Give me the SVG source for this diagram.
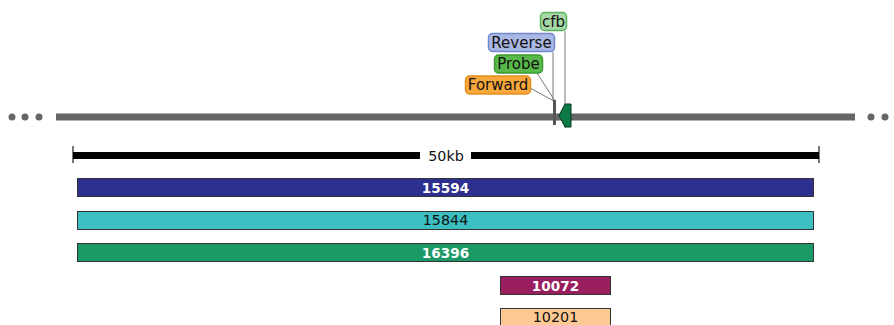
<svg xmlns="http://www.w3.org/2000/svg" width="894" height="325" viewBox="0 0 894 325">
  <style>
    text { font-family: "DejaVu Sans", Verdana, sans-serif; font-size: 14.3px; }
    .lbl { text-anchor: middle; fill: #111; }
    .tagtxt { font-size: 15px; }
    .bold { font-weight: bold; fill: #fff; font-size: 13.6px; }
    .bar { stroke: #333; stroke-width: 1; }
    .tag { stroke-width: 1.5; }
    .lead { stroke: #777; stroke-width: 1; fill: none; }
  </style>
  <rect width="894" height="325" fill="#fff"/>

  <!-- genome track -->
  <g id="track">
    <circle cx="12" cy="117" r="3.5" fill="#666"/>
    <circle cx="25" cy="117" r="3.5" fill="#666"/>
    <circle cx="39" cy="117" r="3.5" fill="#666"/>
    <rect x="56" y="113.5" width="799" height="7" fill="#666"/>
    <circle cx="871" cy="117" r="3.5" fill="#666"/>
    <circle cx="885" cy="117" r="3.5" fill="#666"/>
  </g>

  <!-- connectors -->
  <g id="connectors">
    <line class="lead" x1="530" y1="88" x2="554" y2="101"/>
    <line class="lead" x1="537" y1="73" x2="555" y2="101"/>
    <line class="lead" x1="553" y1="52" x2="553" y2="101"/>
    <line class="lead" x1="565" y1="31" x2="565" y2="128"/>
  </g>

  <!-- features -->
  <g id="amplicon">
    <rect x="553" y="100" width="3" height="25" fill="#555"/>
  </g>
  <g id="cfb-gene">
    <polygon points="559,115.5 565,104 571,104 571,127 565,127" fill="#0b7a45" stroke="#08361f" stroke-width="1"/>
  </g>

  <!-- labels -->
  <g id="label-cfb">
    <rect class="tag" x="540.5" y="12.5" width="26" height="18" rx="4" fill="#a6d8a8" stroke="#5bb55f"/>
    <text class="lbl tagtxt" x="553.5" y="26.5">cfb</text>
  </g>
  <g id="label-reverse">
    <rect class="tag" x="488.5" y="33.5" width="66" height="18" rx="4" fill="#a9b7e3" stroke="#6f88cf"/>
    <text class="lbl tagtxt" x="521.5" y="47.5">Reverse</text>
  </g>
  <g id="label-probe">
    <rect class="tag" x="494.5" y="55" width="48" height="18" rx="4" fill="#58b94a" stroke="#3c9a34"/>
    <text class="lbl tagtxt" x="518.5" y="69">Probe</text>
  </g>
  <g id="label-forward">
    <rect class="tag" x="465.5" y="76" width="65" height="18" rx="4" fill="#f8a83a" stroke="#e39022"/>
    <text class="lbl tagtxt" x="498" y="90">Forward</text>
  </g>

  <!-- scale bar -->
  <g id="scale">
    <rect x="72" y="146" width="2" height="17" fill="#777"/>
    <rect x="818" y="146" width="2" height="17" fill="#777"/>
    <rect x="73" y="152" width="347" height="7" fill="#000"/>
    <rect x="471" y="152" width="348" height="7" fill="#000"/>
    <text class="lbl" x="446" y="161">50kb</text>
  </g>

  <!-- sequences -->
  <g id="seq-15594">
    <rect class="bar" x="77.5" y="178.5" width="736" height="18" fill="#2e3090"/>
    <text class="lbl bold" x="445.5" y="192.5">15594</text>
  </g>
  <g id="seq-15844">
    <rect class="bar" x="77.5" y="211.5" width="736" height="18" fill="#3bbfc1"/>
    <text class="lbl" x="445.5" y="225">15844</text>
  </g>
  <g id="seq-16396">
    <rect class="bar" x="77.5" y="243.5" width="736" height="18" fill="#1a9966"/>
    <text class="lbl bold" x="445.5" y="257.5">16396</text>
  </g>
  <g id="seq-10072">
    <rect class="bar" x="500.5" y="276.5" width="110" height="18" fill="#991f5f"/>
    <text class="lbl bold" x="555.5" y="290.5">10072</text>
  </g>
  <g id="seq-10201">
    <rect class="bar" x="500.5" y="308.5" width="110" height="18" fill="#ffc994"/>
    <text class="lbl" x="555.5" y="322">10201</text>
  </g>
</svg>
